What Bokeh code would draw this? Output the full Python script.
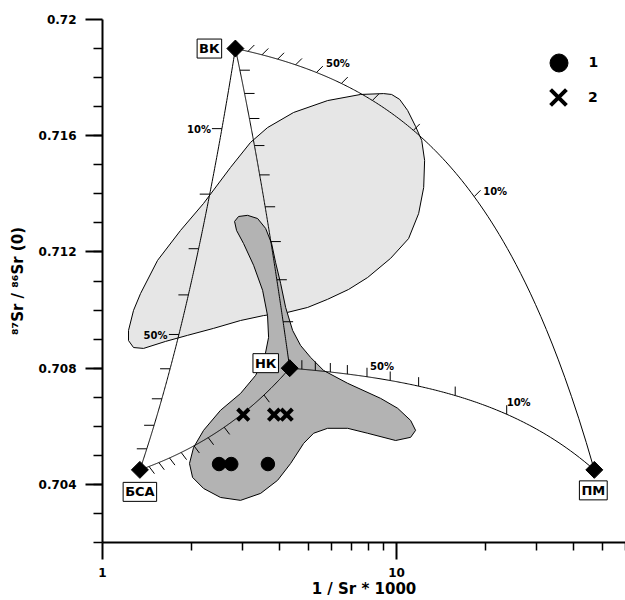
import numpy as np
from bokeh.plotting import figure
from bokeh.models import ColumnDataSource, FixedTicker, Legend, LegendItem, CustomJSTickFormatter
from bokeh.core.properties import value
from bokeh.embed import file_html
from bokeh.resources import INLINE

FONT = "DejaVu Sans"

# ---------------- data ----------------
# end-members: 1/Sr*1000 and 87Sr/86Sr
EM_NAMES = ["ВК", "БСА", "НК", "ПМ"]
EM_X = [2.83, 1.34, 4.33, 47.0]
EM_Y = [0.7190, 0.7045, 0.7080, 0.7045]

# binary mixing curves between end-members
MIX_PAIRS = [("ВК", "ПМ"), ("НК", "ПМ"), ("ВК", "НК"), ("ВК", "БСА"), ("БСА", "НК")]
TICK_FRACTIONS = [0.1, 0.2, 0.3, 0.4, 0.5, 0.6, 0.7, 0.8, 0.9]

# labelled mixing ticks: (Sr-rich member, other member, fraction, text)
PCT_MEMBER = ["ВК", "ВК", "НК", "НК", "БСА", "БСА"]
PCT_OTHER = ["ПМ", "ПМ", "ПМ", "ПМ", "ВК", "ВК"]
PCT_FRAC = [0.5, 0.1, 0.5, 0.1, 0.1, 0.5]
PCT_TEXT = ["50%", "10%", "50%", "10%", "10%", "50%"]

# sample group 1 (circles) and group 2 (crosses)
CIRC_X = [2.49, 2.74, 3.65]
CIRC_Y = [0.7047, 0.7047, 0.7047]
CROSS_X = [3.01, 3.83, 4.23]
CROSS_Y = [0.7064, 0.7064, 0.7064]

# light-gray field outline
LIGHT_X = [1.226, 1.275, 1.347, 1.539, 1.842, 2.206, 2.725, 3.187, 3.640, 4.464,
           5.826, 7.544, 9.03, 9.616, 10.24, 10.90, 11.60, 12.17, 12.45, 12.36,
           11.88, 10.98, 9.541, 7.969, 6.867, 5.826, 4.982, 4.259, 3.528, 2.947,
           2.386, 1.946, 1.638, 1.379, 1.275, 1.226]
LIGHT_Y = [0.70930, 0.70999, 0.71057, 0.71171, 0.71274, 0.71367, 0.71491, 0.71577,
           0.71628, 0.71680, 0.71721, 0.71742, 0.71745, 0.71742, 0.71725, 0.71687,
           0.71632, 0.71584, 0.71515, 0.71422, 0.71332, 0.71246, 0.71178, 0.71112,
           0.71071, 0.71037, 0.71009, 0.70992, 0.70981, 0.70964, 0.70937, 0.70913,
           0.70892, 0.70868, 0.70871, 0.70895]

# dark-gray field outline
DARK_X = [2.812, 2.901, 3.113, 3.368, 3.586, 3.758, 3.877, 4.032, 4.194, 4.430,
          4.716, 5.100, 5.647, 6.813, 8.824, 10.08, 11.16, 11.60, 11.16, 9.922,
          7.969, 6.813, 5.826, 5.221, 4.828, 4.361, 3.938, 3.448, 2.947, 2.519,
          2.206, 2.024, 1.976, 2.040, 2.206, 2.519, 2.947, 3.315, 3.558, 3.670,
          3.640, 3.502, 3.264, 3.017, 2.856]
DARK_Y = [0.71305, 0.71322, 0.71326, 0.71315, 0.71281, 0.71229, 0.71164, 0.71092,
          0.71009, 0.70930, 0.70878, 0.70837, 0.70792, 0.70748, 0.70696, 0.70662,
          0.70620, 0.70586, 0.70562, 0.70551, 0.70576, 0.70593, 0.70593, 0.70576,
          0.70541, 0.70472, 0.70414, 0.70369, 0.70345, 0.70355, 0.70386, 0.70424,
          0.70472, 0.70527, 0.70586, 0.70655, 0.70713, 0.70775, 0.70837, 0.70906,
          0.70981, 0.71068, 0.71154, 0.71229, 0.71274]

# axes
X_MAJOR = [1, 10]
X_TICK_LABELS = ["1", "10"]
X_MINOR = [2, 3, 4, 5, 6, 7, 8, 9, 20, 30, 40, 50, 60]
Y_MAJOR = [0.704, 0.708, 0.712, 0.716, 0.72]
Y_TICK_LABELS = ["0.704", "0.708", "0.712", "0.716", "0.72"]
Y_MINOR = [0.702, 0.703, 0.704, 0.705, 0.706, 0.707, 0.708, 0.709, 0.710, 0.711,
           0.712, 0.713, 0.714, 0.715, 0.716, 0.717, 0.718, 0.719]

# ---------------- styles ----------------
TICK_ANGLE = {0: 45, 1: 90, 2: 0, 3: 180, 4: -53}   # degrees, per mixing pair
TICK_LEN = {0: 9, 1: 9, 2: 10, 3: 10, 4: 9}
PCT_DX = [9.5, 9, 3, 0, -11, -11.5]
PCT_DY = [-9, -5.5, -10, -12, 1, 1]
PCT_ALIGN = ["left", "left", "left", "left", "right", "right"]
PCT_BASE = ["middle", "middle", "alphabetic", "alphabetic", "middle", "middle"]
EM_DX = [-26, 0, -24, -1]
EM_DY = [0, 22, -5, 20.5]


def em(name):
    i = EM_NAMES.index(name)
    return EM_X[i], EM_Y[i]


def mix(a, b, f):
    """two-component mixing: f = mass fraction of component a"""
    xa, ra = em(a)
    xb, rb = em(b)
    sa, sb = 1000.0 / xa, 1000.0 / xb
    f = np.asarray(f, dtype=float)
    s = f * sa + (1 - f) * sb
    r = (f * sa * ra + (1 - f) * sb * rb) / s
    return 1000.0 / s, r


p = figure(width=625, height=600, x_axis_type="log", x_range=(1, 60), y_range=(0.702, 0.72),
           output_backend="svg", toolbar_location=None,
           min_border_left=102, min_border_right=0, min_border_top=19, min_border_bottom=57)
p.outline_line_color = None
p.grid.visible = False
p.background_fill_color = "white"

# fields
p.patch(LIGHT_X, LIGHT_Y, fill_color="#e6e6e6", line_color="black", line_width=1)
p.patch(DARK_X, DARK_Y, fill_color="#b3b3b3", line_color="black", line_width=1)

# mixing curves
xs, ys = [], []
fgrid = np.linspace(0, 1, 241)
for a, b in MIX_PAIRS:
    cx, cy = mix(a, b, fgrid)
    xs.append(list(cx))
    ys.append(list(cy))
p.multi_line(xs, ys, line_color="black", line_width=1)

# 10% ticks along curves
for k, (a, b) in enumerate(MIX_PAIRS):
    tx, ty = mix(a, b, TICK_FRACTIONS)
    p.ray(x=list(tx), y=list(ty), length=TICK_LEN[k], length_units="screen",
          angle=TICK_ANGLE[k], angle_units="deg", line_color="black", line_width=1)

# percentage labels
for i in range(len(PCT_TEXT)):
    lx, ly = mix(PCT_MEMBER[i], PCT_OTHER[i], [PCT_FRAC[i]])
    p.text(x=list(lx), y=list(ly), text=[PCT_TEXT[i]], x_offset=PCT_DX[i], y_offset=PCT_DY[i],
           text_align=PCT_ALIGN[i], text_baseline=PCT_BASE[i], text_font=value(FONT),
           text_font_style="bold", text_font_size="10px", text_color="black")

# samples
r_circ = p.scatter(CIRC_X, CIRC_Y, marker="circle", size=13.5, fill_color="black", line_color="black")
r_cross = p.scatter(CROSS_X, CROSS_Y, marker="x", size=16, line_color="black", line_width=4)

# end-members
p.scatter(EM_X, EM_Y, marker="square", angle=45, angle_units="deg", size=12,
          fill_color="black", line_color="black")
em_src = ColumnDataSource(dict(x=EM_X, y=EM_Y, name=EM_NAMES, dx=EM_DX, dy=EM_DY))
p.text(x="x", y="y", text="name", x_offset="dx", y_offset="dy", source=em_src,
       text_align="center", text_baseline="middle", text_font=value(FONT),
       text_font_style="bold", text_font_size="13px", text_color="black",
       background_fill_color="white", border_line_color="black", border_line_width=1, padding=2)

# legends (one per item so that each marker keeps the reference size)
for label, rend, glyph, loc, standoff in [("1", r_circ, 45, (433.5, 457.5), 8),
                                          ("2", r_cross, 56, (428.0, 417.0), 2)]:
    leg = Legend(items=[LegendItem(label=label, renderers=[rend])], location=loc,
                 glyph_width=glyph, glyph_height=glyph, label_standoff=standoff, padding=0, margin=0,
                 border_line_color=None, background_fill_alpha=0,
                 label_text_font=FONT, label_text_font_style="bold", label_text_font_size="14px",
                 label_text_color="black")
    p.add_layout(leg)

# axes
xa = p.xaxis[0]
ya = p.yaxis[0]
xa.ticker = FixedTicker(ticks=X_MAJOR, minor_ticks=X_MINOR)
ya.ticker = FixedTicker(ticks=Y_MAJOR, minor_ticks=Y_MINOR)
xa.formatter = CustomJSTickFormatter(code="return tick.toString()")
ya.formatter = CustomJSTickFormatter(code="return tick.toFixed(3).replace(/0+$/, '')")
xa.major_label_overrides = dict(zip(X_MAJOR, X_TICK_LABELS))
ya.major_label_overrides = dict(zip(Y_MAJOR, Y_TICK_LABELS))
xa.axis_label = "1 / Sr * 1000"
ya.axis_label = "⁸⁷Sr / ⁸⁶Sr (0)"
for ax in (xa, ya):
    ax.axis_line_width = 2
    ax.axis_line_color = "black"
    ax.major_tick_line_width = 2
    ax.minor_tick_line_width = 1.5
    ax.major_tick_line_color = "black"
    ax.minor_tick_line_color = "black"
    ax.major_tick_in = 0
    ax.minor_tick_in = 0
    ax.major_tick_out = 17
    ax.major_label_text_font = FONT
    ax.major_label_text_font_style = "bold"
    ax.major_label_text_font_size = "12px"
    ax.major_label_text_color = "black"
    ax.axis_label_text_font = FONT
    ax.axis_label_text_font_style = "bold"
    ax.axis_label_text_font_size = "15px"
    ax.axis_label_text_color = "black"
xa.minor_tick_out = 8
ya.minor_tick_out = 9
xa.major_label_standoff = 8
xa.axis_label_standoff = 0
ya.major_label_standoff = 9
ya.axis_label_standoff = 9

open("out.html", "w").write(file_html(p, INLINE))
